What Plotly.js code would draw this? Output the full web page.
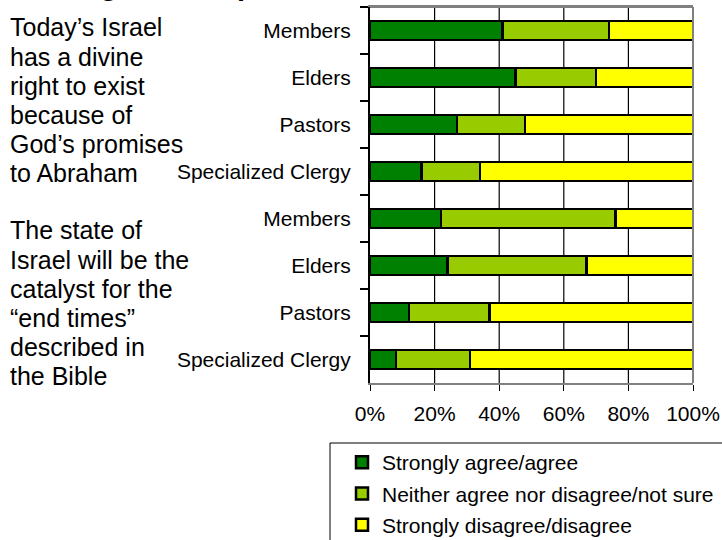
<!DOCTYPE html>
<html>
<head>
<meta charset="utf-8">
<script src="https://cdn.plot.ly/plotly-3.0.1.min.js"></script>
<style>html,body{margin:0;padding:0;background:#fff;}#chart{width:722px;height:540px;}</style>
</head>
<body>
<div id="chart"></div>
<script>
// ---- data ----
const groupLabels = ["Members", "Elders", "Pastors", "Specialized Clergy",
                     "Members", "Elders", "Pastors", "Specialized Clergy"];
const seriesNames = ["Strongly agree/agree",
                     "Neither agree nor disagree/not sure",
                     "Strongly disagree/disagree"];
const agree    = [41, 45, 27, 16, 22, 24, 12, 8];
const neither  = [33, 25, 21, 18, 54, 43, 25, 23];
const disagree = [26, 30, 52, 66, 24, 33, 63, 69];
const xTickVals = [0, 20, 40, 60, 80, 100];
const xTickText = ["0%", "20%", "40%", "60%", "80%", "100%"];
const statement1 = ["Today\u2019s Israel", "has a divine", "right to exist",
                    "because of", "God\u2019s promises", "to Abraham"];
const statement2 = ["The state of", "Israel will be the", "catalyst for the",
                    "\u201cend times\u201d", "described in", "the Bible"];
const titleText = "Theological Perspectives";

// ---- geometry helpers (pixel -> paper) ----
const W = 722, H = 540;
const L = 370, R = 693, T = 7, B = 383;
const px = p => (p - L) / (R - L);
const py = p => (B - p) / (B - T);
const FONT = 'Arial, "Liberation Sans", sans-serif';

// unique category keys (second block gets an invisible zero-width suffix)
const cats = groupLabels.map((g, i) => i < 4 ? g : g + "\u200b");
const colors = ["#008000", "#99CC00", "#FFFF00"];
const values = [agree, neither, disagree];

// grid lines at the inner x ticks, on a hidden base y axis (drawn below the bars)
const gx = [], gy = [];
xTickVals.slice(1, -1).forEach(v => { gx.push(v, v, null); gy.push(0, 1, null); });
const gridTrace = {
  type: "scatter", mode: "lines", x: gx, y: gy, xaxis: "x", yaxis: "y",
  line: {color: "#000", width: 1.2}, showlegend: false, hoverinfo: "skip"
};

const barTraces = values.map((v, k) => ({
  type: "bar",
  orientation: "h",
  x: v,
  y: cats,
  xaxis: "x", yaxis: "y2",
  name: seriesNames[k],
  legendgroup: "g" + k,
  marker: {color: colors[k], line: {color: "#000", width: 2.5}},
  hoverinfo: "x+name"
}));

const annotations = [];
function addLines(lines, firstBaseline, spacing, size) {
  lines.forEach((t, i) => {
    const base = firstBaseline + i * spacing;
    annotations.push({
      text: t, xref: "paper", yref: "paper",
      x: px(8), y: py(base - 0.3465 * size),
      xanchor: "left", yanchor: "middle", showarrow: false,
      font: {family: FONT, size: size, color: "#000"}
    });
  });
}
addLines(statement1, 36, 29.2, 25);
addLines(statement2, 239, 29.2, 25);
annotations.push({
  text: "<b>" + titleText + "</b>", xref: "paper", yref: "paper",
  x: px(3), y: py(-5 - 0.3465 * 29), xanchor: "left", yanchor: "middle",
  showarrow: false, font: {family: FONT, size: 29, color: "#000"}
});

const layout = {
  width: W, height: H,
  margin: {l: L, r: W - R, t: T, b: H - B, pad: 0, autoexpand: false},
  paper_bgcolor: "#ffffff", plot_bgcolor: "#ffffff",
  barmode: "stack",
  bargap: 0.6,
  font: {family: FONT, size: 21, color: "#000"},
  xaxis: {
    range: [0, 100], tickmode: "array", tickvals: xTickVals, ticktext: xTickText,
    showgrid: false, zeroline: false,
    showline: true, linecolor: "#808080", linewidth: 2, mirror: true,
    ticks: "outside", ticklen: 6, tickcolor: "#000", tickwidth: 1,
    ticklabelstandoff: 5,
    tickfont: {family: FONT, size: 21, color: "#000"},
    fixedrange: true
  },
  yaxis: {
    range: [0, 1], visible: false, showgrid: false, zeroline: false, fixedrange: true
  },
  yaxis2: {
    overlaying: "y", side: "left", anchor: "x",
    type: "category", categoryorder: "array", categoryarray: cats,
    autorange: "reversed",
    tickson: "boundaries",
    ticks: "outside", ticklen: 8, tickcolor: "#000", tickwidth: 1.5,
    showgrid: false, zeroline: false,
    showline: true, linecolor: "#000", linewidth: 2, mirror: false,
    ticklabelstandoff: 13,
    tickfont: {family: FONT, size: 21, color: "#000"},
    fixedrange: true
  },
  showlegend: true,
  legend: {
    x: px(342), y: py(442), xanchor: "left", yanchor: "top",
    bgcolor: "rgba(0,0,0,0)", borderwidth: 0,
    traceorder: "grouped", tracegroupgap: 1,
    font: {family: FONT, size: 21, color: "#000"}
  },
  shapes: [
    {type: "line", xref: "paper", yref: "paper", x0: 0, x1: 1, y0: 1, y1: 1,
     line: {color: "#808080", width: 2}},
    {type: "line", xref: "paper", yref: "paper", x0: 1, x1: 1, y0: 0, y1: 1,
     line: {color: "#808080", width: 2}},
    {type: "rect", xref: "paper", yref: "paper",
     x0: px(330), x1: px(760), y0: py(443), y1: py(600),
     line: {color: "#000", width: 1}, fillcolor: "rgba(0,0,0,0)"}
  ],
  annotations: annotations
};

Plotly.newPlot("chart", [gridTrace].concat(barTraces), layout, {displayModeBar: false, staticPlot: true});
</script>
</body>
</html>
